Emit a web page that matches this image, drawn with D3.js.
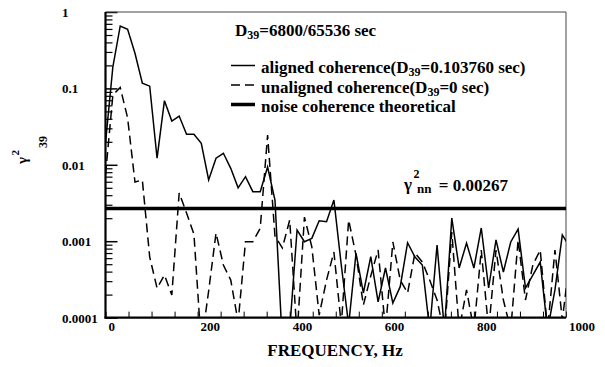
<!DOCTYPE html>
<html>
<head>
<meta charset="utf-8">
<script src="https://cdn.jsdelivr.net/npm/d3@7/dist/d3.min.js"></script>
<style>
  body { margin: 0; background: #fff; }
  text { font-family: "Liberation Serif", "Times New Roman", serif; font-weight: bold; fill: #000; }
</style>
</head>
<body>
<div id="canvas"></div>
<script>
// frequency bins, Hz
var freq = [0, 16, 32, 48, 64, 80, 96, 112, 128, 144, 160, 176, 192, 208, 224, 240,
  256, 272, 288, 304, 320, 336, 352, 368, 384, 400, 416, 432, 448, 464, 480, 496,
  512, 528, 544, 560, 576, 592, 608, 624, 640, 656, 672, 688, 704, 720, 736, 752,
  768, 784, 800, 816, 832, 848, 864, 880, 896, 912, 928, 944, 960, 976, 992, 1008];

// aligned coherence (D39=0.103760 sec)
var aligned = [0.0193, 0.192, 0.656, 0.594, 0.288, 0.117, 0.107, 0.0122, 0.069, 0.0374, 0.0435, 0.0251, 0.0251, 0.0191, 0.00633, 0.0122,
  0.01415, 0.0090, 0.0050, 0.0070, 0.00445, 0.00445, 0.00936, 0.00346, 0.0000465, 0.000069, 0.0014, 0.000985, 0.00109, 0.00185, 0.0018, 0.00346,
  0.000488, 0.00008, 0.000695, 0.00021, 0.000627, 0.000161, 0.000446, 0.000155, 0.000254, 0.000955, 0.000621, 0.000488, 0.000069, 0.000891, 0.000069, 0.00201,
  0.000446, 0.000946, 0.000446, 0.00149, 0.000244, 0.00104, 0.000395, 0.000977, 0.00144, 0.000244, 0.000361, 0.000534, 0.000069, 0.00023, 0.00121, 0.00084];

// unaligned coherence (D39=0 sec)
var unaligned = [0.00736, 0.082, 0.103, 0.041, 0.00596, 0.00633, 0.00062, 0.000242, 0.000361, 0.000198, 0.00428, 0.00234, 0.00124, 0.000044, 0.000223, 0.00128,
  0.000488, 0.00031, 0.0000875, 0.000985, 0.000985, 0.00148, 0.0245, 0.00117, 0.000815, 0.00189, 0.000059, 0.00207, 0.000847, 0.000108, 0.00031, 0.000722,
  0.00008, 0.00189, 0.000659, 0.000146, 0.00035, 0.000767, 0.000069, 0.000977, 0.00031, 0.00021, 0.0007, 0.000534, 0.00031, 0.00017, 0.000059, 0.00132,
  0.000069, 0.00023, 0.000069, 0.000767, 0.000069, 0.000767, 0.00017, 0.000069, 0.00104, 0.00017, 0.000488, 0.000767, 0.000069, 0.000767, 0.000093, 0.000567];

var noiseLevel = 0.00267;

var xTickValues = [0, 200, 400, 600, 800, 1000];
var yTickValues = [1, 0.1, 0.01, 0.001, 0.0001];
var yTickLabels = ["1", "0.1", "0.01", "0.001", "0.0001"];

var svg = d3.select("#canvas").append("svg")
  .attr("width", 605)
  .attr("height", 367);

// plot box (window.top is reserved, so use own names)
var pLeft = 105.5, pRight = 566, pTop = 12, pBottom = 317.6;

var x = d3.scaleLinear().domain([0, 1000]).range([pLeft, pRight]);
var y = d3.scaleLog().domain([0.0001, 1]).range([pBottom, pTop]);

svg.append("clipPath").attr("id", "plotclip")
  .append("rect")
  .attr("x", pLeft).attr("y", pTop)
  .attr("width", pRight - pLeft).attr("height", pBottom - pTop);

// x axis: small ticks every 50 Hz pointing up, labels every 200
var minorX = d3.range(0, 1001, 50);
var xAxis = d3.axisBottom(x)
  .tickValues(minorX)
  .tickSizeInner(-6)
  .tickSizeOuter(0)
  .tickPadding(4)
  .tickFormat(function(d) { return xTickValues.indexOf(d) >= 0 ? d : ""; });

var gx = svg.append("g")
  .attr("transform", "translate(0," + pBottom + ")")
  .call(xAxis);
gx.select(".domain").remove();
gx.selectAll("line").attr("stroke", "#000").attr("stroke-width", 1);
gx.selectAll("text")
  .attr("text-anchor", "start")
  .attr("dx", 2.5)
  .style("font-size", "13px");

// y axis: log, decade ticks long, minor ticks short, all inward
var minorY = [];
[0.0001, 0.001, 0.01, 0.1].forEach(function(dec) {
  for (var m = 2; m <= 9; m++) minorY.push(dec * m);
});

var gyMinor = svg.append("g")
  .attr("transform", "translate(" + pLeft + ",0)")
  .call(d3.axisLeft(y).tickValues(minorY).tickSizeInner(-7).tickSizeOuter(0).tickFormat(""));
gyMinor.select(".domain").remove();
gyMinor.selectAll("line").attr("stroke-width", 1.2);

var gy = svg.append("g")
  .attr("transform", "translate(" + pLeft + ",0)")
  .call(d3.axisLeft(y).tickValues(yTickValues).tickSizeInner(-12).tickSizeOuter(0)
    .tickFormat(function(d, i) { return yTickLabels[i]; }));
gy.select(".domain").remove();
gy.selectAll("line").attr("stroke-width", 1.5);
gy.selectAll("text")
  .attr("text-anchor", "start")
  .attr("x", 62 - pLeft)
  .attr("dy", "0.34em")
  .style("font-size", "13px");

// frame: heavy left/bottom, thin top/right
svg.append("line").attr("x1", pLeft).attr("x2", pRight).attr("y1", pTop).attr("y2", pTop)
  .attr("stroke", "#444").attr("stroke-width", 1);
svg.append("line").attr("x1", pRight).attr("x2", pRight).attr("y1", pTop).attr("y2", pBottom)
  .attr("stroke", "#444").attr("stroke-width", 1);
svg.append("line").attr("x1", pLeft).attr("x2", pLeft).attr("y1", pTop).attr("y2", pBottom + 1)
  .attr("stroke", "#000").attr("stroke-width", 2.2);
svg.append("line").attr("x1", pLeft - 1).attr("x2", pRight).attr("y1", pBottom).attr("y2", pBottom)
  .attr("stroke", "#000").attr("stroke-width", 2.2);

var line = d3.line()
  .x(function(d, i) { return x(freq[i]); })
  .y(function(d) { return y(d); });

var plot = svg.append("g").attr("clip-path", "url(#plotclip)");

plot.append("path")
  .attr("d", line(unaligned))
  .attr("fill", "none")
  .attr("stroke", "#000")
  .attr("stroke-width", 1.5)
  .attr("stroke-dasharray", "9,5");

plot.append("path")
  .attr("d", line(aligned))
  .attr("fill", "none")
  .attr("stroke", "#000")
  .attr("stroke-width", 1.5);

// theoretical noise coherence
plot.append("line")
  .attr("x1", pLeft).attr("x2", pRight)
  .attr("y1", y(noiseLevel)).attr("y2", y(noiseLevel))
  .attr("stroke", "#000")
  .attr("stroke-width", 3.5);

// title
var title = svg.append("text").attr("x", 235).attr("y", 36).style("font-size", "17px");
title.append("tspan").text("D");
title.append("tspan").attr("dy", 3).style("font-size", "12px").text("39");
title.append("tspan").attr("dy", -3).text("=6800/65536 sec");

// legend
var legend = [
  { dash: null, w: 1.5, pre: "aligned coherence(D", post: "=0.103760 sec)" },
  { dash: "9,5", w: 1.5, pre: "unaligned coherence(D", post: "=0 sec)" },
  { dash: null, w: 3.5, pre: "noise coherence theoretical", post: null }
];
legend.forEach(function(l, i) {
  var yy = 73 + i * 19.5;
  svg.append("line")
    .attr("x1", 231).attr("x2", 255)
    .attr("y1", yy - 7.5).attr("y2", yy - 7.5)
    .attr("stroke", "#000")
    .attr("stroke-width", l.w)
    .attr("stroke-dasharray", l.dash);
  var t = svg.append("text").attr("x", 261).attr("y", yy).style("font-size", "17px");
  t.append("tspan").text(l.pre);
  if (l.post) {
    t.append("tspan").attr("dy", 3).style("font-size", "12px").text("39");
    t.append("tspan").attr("dy", -3).text(l.post);
  }
});

// noise level label
svg.append("text").attr("x", 404).attr("y", 190).style("font-size", "17px").text("\u03b3");
svg.append("text").attr("x", 413.5).attr("y", 178).style("font-size", "12px").text("2");
svg.append("text").attr("x", 417).attr("y", 193).style("font-size", "13px").text("nn");
svg.append("text").attr("x", 508).attr("y", 191).attr("text-anchor", "end")
  .style("font-size", "17px").text("= 0.00267");

// axis titles
svg.append("text").attr("x", 335).attr("y", 356).attr("text-anchor", "middle")
  .style("font-size", "17px").text("FREQUENCY, Hz");

var ylab = svg.append("g").attr("transform", "rotate(-90)");
ylab.append("text").attr("x", -164).attr("y", 27).style("font-size", "15px").text("\u03b3");
ylab.append("text").attr("x", -155.5).attr("y", 18.5).style("font-size", "11px").text("2");
ylab.append("text").attr("x", -148).attr("y", 46.5).style("font-size", "12px").text("39");
</script>
</body>
</html>
